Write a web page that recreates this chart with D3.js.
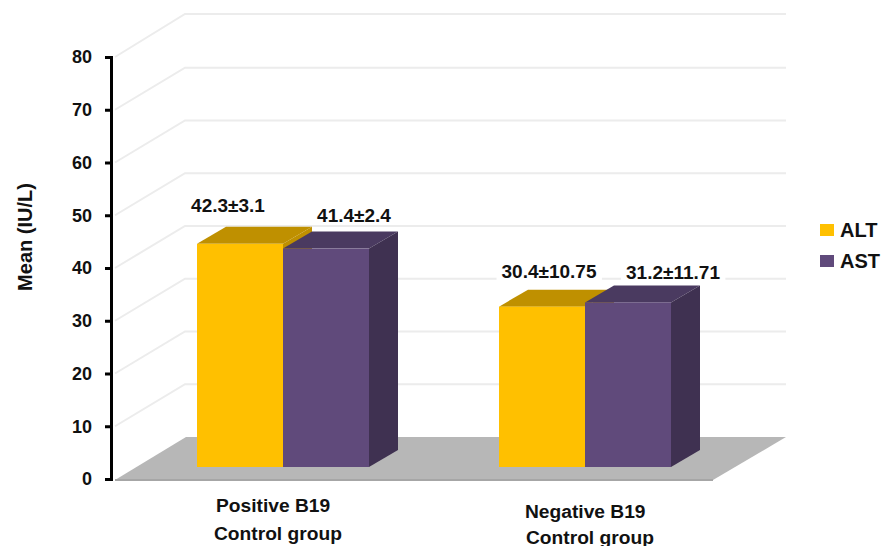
<!DOCTYPE html>
<html>
<head>
<meta charset="utf-8">
<script src="https://cdnjs.cloudflare.com/ajax/libs/d3/7.8.5/d3.min.js"></script>
<style>
  html, body { margin: 0; padding: 0; background: #fff; }
  svg { display: block; }
  text { font-family: "Liberation Sans", Arial, sans-serif; font-weight: 700; fill: #111; }
</style>
</head>
<body>
<svg id="chart" width="892" height="546"></svg>
<script>
// Serum enzyme means by B19 status
const categories = ["Positive B19", "Negative B19"];
const categoryLines = [["Positive B19", "Control group"], ["Negative B19", "Control group"]];
const seriesNames = ["ALT", "AST"];
const altValues = [42.3, 30.4];
const astValues = [41.4, 31.2];
const altLabels = ["42.3±3.1", "30.4±10.75"];
const astLabels = ["41.4±2.4", "31.2±11.71"];
const yTicks = [0, 10, 20, 30, 40, 50, 60, 70, 80];

const colors = {
  ALT: { front: "#FFC000", top: "#BF9000", side: "#BF9000" },
  AST: { front: "#604A7B", top: "#4A3A60", side: "#3F3151" }
};

// Hand-placed value label nudges, [dx from bar centre, dy from bar top]
const labelNudge = {
  ALT: [[-12, -38], [7, -35]],
  AST: [[28, -33], [45, -30]]
};
const categoryLabelLayout = [
  { x: 216, y: [505, 533], dx2: -2 },
  { x: 525, y: [511, 537], dx2: 1 }
];

const svg = d3.select("#chart");

// Pseudo-3D frame: the wall sits up and to the right of the axis plane
const y = d3.scaleLinear().domain([0, 80]).range([479, 57]);
const wallShift = { x: 70, y: -42 };
const floorFront = { left: 115, right: 713 };
const barLift = 12;
const depth = { x: 29, y: -17 };

const x0 = d3.scaleBand().domain(categories).range([197, 671]).paddingInner(130 / 302).paddingOuter(0);
const x1 = d3.scaleBand().domain(seriesNames).range([0, x0.bandwidth()]);

// Floor
const floorY = y(0) + 1;
svg.append("polygon")
  .attr("points", [
    [floorFront.left, floorY],
    [floorFront.left + 71, floorY + wallShift.y - 1],
    [floorFront.right + 73, floorY + wallShift.y - 1],
    [floorFront.right, floorY]
  ].join(" "))
  .attr("fill", "#b7b7b7");
svg.append("line")
  .attr("x1", floorFront.left).attr("x2", floorFront.right)
  .attr("y1", floorY).attr("y2", floorY)
  .attr("stroke", "#a6a6a6").attr("stroke-width", 2);

// Grid lines on the side and back walls
const grid = svg.append("g").attr("fill", "none").attr("stroke", "#ececec").attr("stroke-width", 2);
yTicks.filter(d => d > 0).forEach(d => {
  const yf = y(d), yb = y(d) + wallShift.y + (d === 80 ? -1 : 0);
  grid.append("path").attr("d", `M${floorFront.left},${yf}L${floorFront.left + wallShift.x},${yb}L${floorFront.right + 73},${yb}`);
});

// Bars
const rows = seriesNames.flatMap(name => {
  const values = name === "ALT" ? altValues : astValues;
  const labels = name === "ALT" ? altLabels : astLabels;
  return categories.map((c, i) => ({ name, c, i, value: values[i], label: labels[i] }));
});
const barY = v => y(v) - barLift;
const barX = d => x0(d.c) + x1(d.name);
const w = x1.bandwidth();

// Backmost faces first so the front faces overlap them
const bars = svg.append("g").selectAll("g").data(rows).join("g");
bars.append("polygon")
  .attr("points", d => {
    const l = barX(d), t = barY(d.value);
    return [[l, t], [l + depth.x, t + depth.y], [l + w + depth.x, t + depth.y], [l + w, t]].join(" ");
  })
  .attr("fill", d => colors[d.name].top);
bars.append("polygon")
  .attr("points", d => {
    const r = barX(d) + w, t = barY(d.value), b = barY(0);
    return [[r, t], [r + depth.x, t + depth.y], [r + depth.x, b + depth.y], [r, b]].join(" ");
  })
  .attr("fill", d => colors[d.name].side);
bars.append("rect")
  .attr("x", barX)
  .attr("y", d => barY(d.value))
  .attr("width", w)
  .attr("height", d => barY(0) - barY(d.value))
  .attr("fill", d => colors[d.name].front);

// Value labels on a white plate that interrupts the grid
const labelG = svg.append("g").selectAll("g").data(rows).join("g");
const labelText = labelG.append("text")
  .attr("x", d => barX(d) + w / 2 + labelNudge[d.name][d.i][0])
  .attr("y", d => barY(d.value) + labelNudge[d.name][d.i][1])
  .attr("text-anchor", "middle")
  .attr("dominant-baseline", "central")
  .attr("font-size", 19)
  .text(d => d.label);
labelText.each(function () {
  const b = this.getBBox();
  d3.select(this.parentNode).insert("rect", "text")
    .attr("x", b.x - 5).attr("y", b.y + 2)
    .attr("width", b.width + 10).attr("height", b.height - 4)
    .attr("fill", "#fff");
});

// Value axis
const axis = svg.append("g")
  .attr("transform", "translate(111,0)")
  .call(d3.axisLeft(y).tickValues(yTicks).tickSize(6).tickPadding(13));
axis.selectAll("path, line").attr("stroke", "#000").attr("stroke-width", 3);
axis.selectAll("text").attr("font-size", 18).attr("fill", "#111")
  .attr("font-family", '"Liberation Sans", Arial, sans-serif').attr("font-weight", 700);

svg.append("text")
  .attr("transform", "translate(25,237) rotate(-90)")
  .attr("text-anchor", "middle")
  .attr("dominant-baseline", "central")
  .attr("font-size", 20)
  .text("Mean (IU/L)");

// Category captions
categoryLines.forEach((lines, i) => {
  const layout = categoryLabelLayout[i];
  lines.forEach((line, j) => {
    svg.append("text")
      .attr("x", layout.x + (j ? layout.dx2 : 0))
      .attr("y", layout.y[j])
      .attr("dominant-baseline", "central")
      .attr("font-size", 19.2)
      .text(line);
  });
});

// Legend
const legend = svg.append("g").selectAll("g").data(seriesNames).join("g")
  .attr("transform", (d, i) => `translate(820,${230 + i * 31})`);
legend.append("rect").attr("x", 0).attr("y", -6).attr("width", 14).attr("height", 12)
  .attr("fill", d => colors[d].front);
legend.append("text").attr("x", 20).attr("y", 0)
  .attr("dominant-baseline", "central").attr("font-size", 20).text(d => d);
</script>
</body>
</html>
